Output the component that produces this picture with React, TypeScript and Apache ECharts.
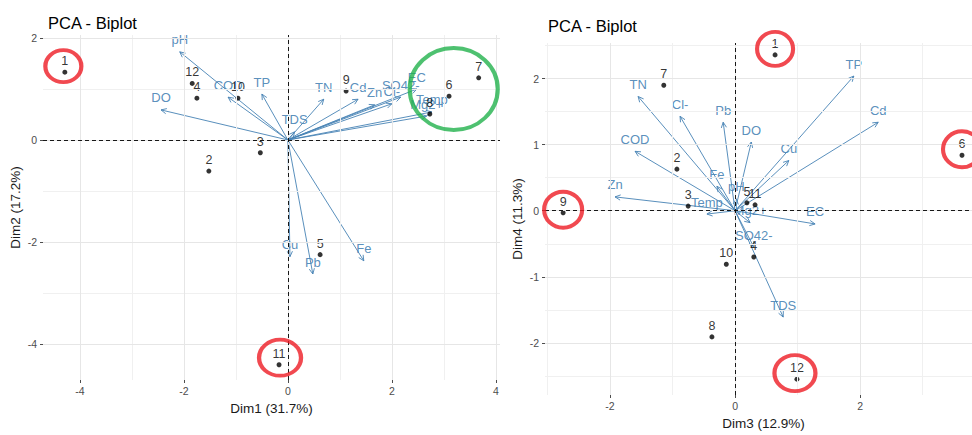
import React, { useEffect, useRef } from "react";
import * as echarts from "echarts";

// ---------- Data ----------
const obsLabels = ["1", "2", "3", "4", "5", "6", "7", "8", "9", "10", "11", "12"];
const obsDim1 = [-4.29, -1.52, -0.53, -1.75, 0.62, 3.1, 3.67, 2.73, 1.12, -0.96, -0.17, -1.84];
const obsDim2 = [1.33, -0.61, -0.25, 0.82, -2.25, 0.86, 1.22, 0.51, 0.96, 0.82, -4.41, 1.11];
const obsDim3 = [0.64, -0.93, -0.75, 0.3, 0.19, 3.63, -1.14, -0.37, -2.75, -0.14, 0.32, 0.99];
const obsDim4 = [2.36, 0.63, 0.07, -0.7, 0.12, 0.84, 1.9, -1.91, -0.03, -0.81, 0.09, -2.55];

const varNames = ["pH", "DO", "COD", "TP", "TN", "TDS", "Cd", "Zn", "Cl-", "SO42-", "EC", "Temp", "Mg2+", "Cu", "Pb", "Fe"];
const varDim1 = [-2.08, -2.44, -1.15, -0.5, 0.69, 0.13, 1.35, 1.67, 2.0, 2.17, 2.48, 2.77, 2.67, 0.04, 0.48, 1.46];
const varDim2 = [1.73, 0.59, 0.84, 0.9, 0.8, 0.16, 0.8, 0.69, 0.71, 0.84, 1.0, 0.55, 0.47, -2.29, -2.63, -2.37];
const varDim3 = [0.02, 0.26, -1.6, 1.9, -1.55, 0.77, 2.29, -1.92, -0.88, 0.3, 1.28, -0.45, 0.24, 0.86, -0.19, -0.29];
const varDim4 = [0.18, 1.04, 0.9, 2.04, 1.73, -1.61, 1.34, 0.21, 1.43, -0.55, -0.2, -0.05, -0.18, 0.76, 1.34, 0.37];

// axis titles, ticks
const titleText = "PCA - Biplot";
const dim1Name = "Dim1 (31.7%)";
const dim2Name = "Dim2 (17.2%)";
const dim3Name = "Dim3 (12.9%)";
const dim4Name = "Dim4 (11.3%)";
const leftXMajor = [-4, -2, 0, 2, 4];
const leftXMinor = [-3, -1, 1, 3];
const leftYMajor = [-4, -2, 0, 2];
const leftYMinor = [-3, -1, 1];
const rightXMajor = [-2, 0, 2];
const rightXMinor = [-3, -1, 1, 3];
const rightYMajor = [-2, -1, 0, 1, 2];
const rightYMinor = [-2.5, -1.5, -0.5, 0.5, 1.5, 2.5];

// highlighted observations (annotations)
const leftRedMarks = ["1", "11"];
const rightRedMarks = ["1", "6", "9", "12"];
const leftGreenCenter = [3.19, 1.0];

// ---------- Styles ----------
const FONT = "Liberation Sans, Arial, Helvetica, sans-serif";
const STEEL = "#4682B4";
const RED = "#ED1C24";
const GREEN = "#22B14C";
const ELLIPSE = "path://M0,10 A10,10 0 1,1 20,10 A10,10 0 1,1 0,10 Z";

function axisCommon(ticks: number[], name: string, isX: boolean, min: number, max: number, idx: number, namePad: number[] = [0, 0, 0, 0]) {
  return {
    type: "value",
    gridIndex: idx,
    min,
    max,
    name,
    nameLocation: "middle",
    nameGap: 21,
    nameTextStyle: { fontFamily: FONT, fontSize: 13.5, color: "#1a1a1a", padding: namePad },
    axisLine: { show: false, onZero: false },
    axisTick: { show: true, length: 3, customValues: ticks, lineStyle: { color: "#4d4d4d", width: 1 } },
    axisLabel: { customValues: ticks, margin: isX ? 5 : 6, fontFamily: FONT, fontSize: 10.5, color: "#4d4d4d", showMinLabel: true, showMaxLabel: true },
    splitLine: { show: false },
  };
}

function gridLinesSeries(idx: number, xMaj: number[], xMin: number[], yMaj: number[], yMin: number[]) {
  const major = { color: "#e6e6e6", width: 1, type: "solid" };
  const minor = { color: "#f0f0f0", width: 1, type: "solid" };
  const data: any[] = [];
  xMin.forEach((v) => data.push({ xAxis: v, lineStyle: minor }));
  yMin.forEach((v) => data.push({ yAxis: v, lineStyle: minor }));
  xMaj.forEach((v) => data.push({ xAxis: v, lineStyle: major }));
  yMaj.forEach((v) => data.push({ yAxis: v, lineStyle: major }));
  data.push({ xAxis: 0, lineStyle: { color: "#000", width: 0.9, type: [4, 3] } });
  data.push({ yAxis: 0, lineStyle: { color: "#000", width: 0.9, type: [4, 3] } });
  return {
    type: "scatter",
    xAxisIndex: idx,
    yAxisIndex: idx,
    z: 0,
    silent: true,
    symbolSize: 0,
    data: [[0, 0]],
    markLine: { silent: true, symbol: "none", label: { show: false }, animation: false, data },
  };
}

function arrowSeries(idx: number, xs: number[], ys: number[]) {
  return {
    type: "custom",
    xAxisIndex: idx,
    yAxisIndex: idx,
    z: 3,
    clip: false,
    silent: true,
    data: varNames.map((n, i) => [xs[i], ys[i], i]),
    renderItem: (params: any, api: any) => {
      const o = api.coord([0, 0]);
      const t = api.coord([api.value(0), api.value(1)]);
      const name = varNames[api.value(2)];
      const ang = Math.atan2(t[1] - o[1], t[0] - o[0]);
      const L = 6;
      const a = Math.PI / 7;
      const p1 = [t[0] - L * Math.cos(ang - a), t[1] - L * Math.sin(ang - a)];
      const p2 = [t[0] - L * Math.cos(ang + a), t[1] - L * Math.sin(ang + a)];
      return {
        type: "group",
        children: [
          { type: "line", shape: { x1: o[0], y1: o[1], x2: t[0], y2: t[1] }, style: { stroke: STEEL, lineWidth: 0.9 } },
          { type: "polyline", shape: { points: [p1, t, p2] }, style: { stroke: STEEL, lineWidth: 0.9, fill: null } },
          {
            type: "text",
            x: t[0],
            y: t[1] - 12,
            style: { text: name, fill: STEEL, fontSize: 13, fontFamily: FONT, align: "center", verticalAlign: "middle", opacity: 0.9 },
          },
        ],
      };
    },
  };
}

function pointSeries(idx: number, xs: number[], ys: number[]) {
  return {
    type: "scatter",
    xAxisIndex: idx,
    yAxisIndex: idx,
    z: 4,
    symbolSize: 5,
    itemStyle: { color: "#000" },
    data: obsLabels.map((l, i) => [xs[i], ys[i], l]),
    label: {
      show: true,
      position: "top",
      distance: 2,
      formatter: (p: any) => p.value[2],
      color: "#000",
      fontSize: 12.5,
      fontFamily: FONT,
    },
  };
}

function markSeries(idx: number, items: any[], color: string) {
  return {
    type: "scatter",
    xAxisIndex: idx,
    yAxisIndex: idx,
    z: 5,
    silent: true,
    symbol: ELLIPSE,
    data: items,
    itemStyle: { color: "rgba(0,0,0,0)", borderColor: color, borderWidth: 4 },
  };
}

function obsPoint(label: string, xs: number[], ys: number[]) {
  const i = obsLabels.indexOf(label);
  return [xs[i], ys[i]];
}

export default function App() {
  const ref = useRef<HTMLDivElement>(null);
  useEffect(() => {
    if (!ref.current) return;
    const chart = echarts.init(ref.current, null, { renderer: "svg" });

    const leftRed = [
      { value: obsPoint(leftRedMarks[0], obsDim1, obsDim2), symbolSize: [36, 32], symbolOffset: [-1.5, -6] },
      { value: obsPoint(leftRedMarks[1], obsDim1, obsDim2), symbolSize: [42, 36], symbolOffset: [1, -7] },
    ];
    const rightRed = [
      { value: obsPoint(rightRedMarks[0], obsDim3, obsDim4), symbolSize: [36, 34], symbolOffset: [0, -6] },
      { value: obsPoint(rightRedMarks[1], obsDim3, obsDim4), symbolSize: [38, 36], symbolOffset: [0, -6] },
      { value: obsPoint(rightRedMarks[2], obsDim3, obsDim4), symbolSize: [38, 36], symbolOffset: [0, -3] },
      { value: obsPoint(rightRedMarks[3], obsDim3, obsDim4), symbolSize: [41, 36], symbolOffset: [-2, -6] },
    ];
    const leftGreen = [{ value: leftGreenCenter, symbolSize: [88, 82] }];

    chart.setOption({
      animation: false,
      backgroundColor: "#fff",
      title: [
        { text: titleText, left: 43, top: 9, textStyle: { fontFamily: FONT, fontSize: 16.5, fontWeight: "normal", color: "#000" } },
        { text: titleText, left: 543, top: 12, textStyle: { fontFamily: FONT, fontSize: 16.5, fontWeight: "normal", color: "#000" } },
      ],
      grid: [
        { left: 43, top: 35, width: 457, height: 345 },
        { left: 545, top: 43, width: 427, height: 357 },
      ],
      xAxis: [
        axisCommon(leftXMajor, dim1Name, true, -4.71, 4.08, 0),
        axisCommon(rightXMajor, dim3Name, true, -3.04, 3.79, 1, [0, 0, 0, 10]),
      ],
      yAxis: [
        axisCommon(leftYMajor, dim2Name, false, -4.71, 2.06, 0),
        axisCommon(rightYMajor, dim4Name, false, -2.79, 2.54, 1),
      ],
      series: [
        gridLinesSeries(0, leftXMajor, leftXMinor, leftYMajor, leftYMinor),
        gridLinesSeries(1, rightXMajor, rightXMinor, rightYMajor, rightYMinor),
        arrowSeries(0, varDim1, varDim2),
        arrowSeries(1, varDim3, varDim4),
        pointSeries(0, obsDim1, obsDim2),
        pointSeries(1, obsDim3, obsDim4),
        markSeries(0, leftRed, RED),
        markSeries(0, leftGreen, GREEN),
        markSeries(1, rightRed, RED),
      ],
    });
    return () => chart.dispose();
  }, []);
  return <div ref={ref} style={{ position: "fixed", left: 0, top: 0, width: 972, height: 435, background: "#fff" }} />;
}
